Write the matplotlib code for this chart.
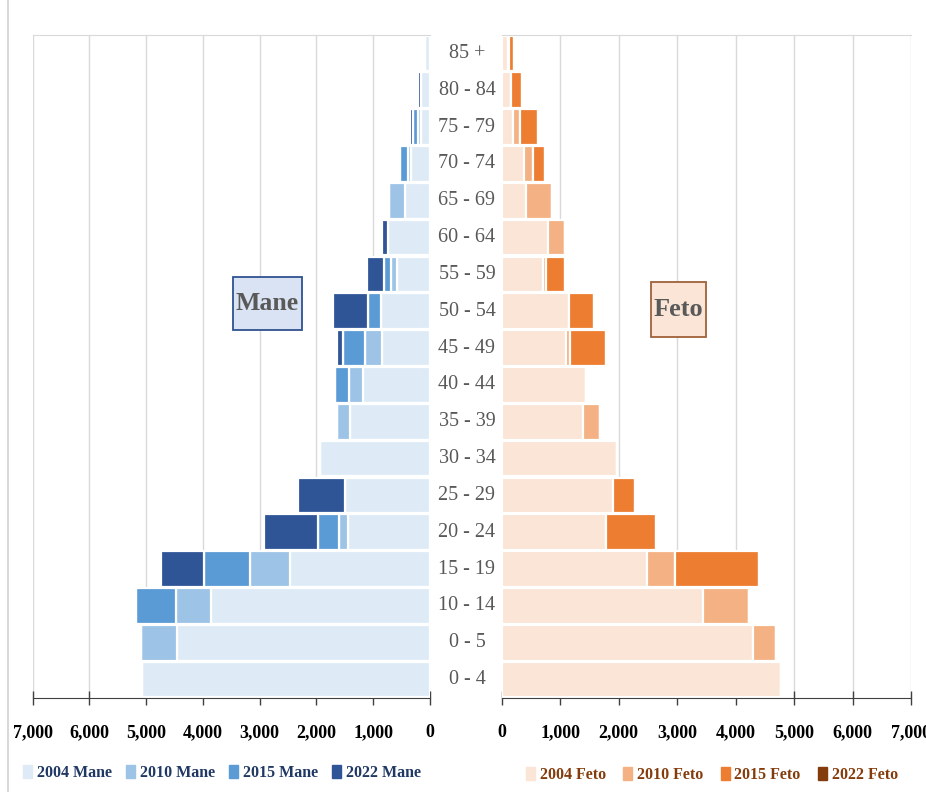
import numpy as np
import matplotlib
matplotlib.use("Agg")
import matplotlib.pyplot as plt
from matplotlib.ticker import FuncFormatter
from matplotlib.patches import Patch, Rectangle
from matplotlib.lines import Line2D
from matplotlib.transforms import blended_transform_factory

plt.rcParams['font.family'] = ['Liberation Serif', 'DejaVu Serif']

# age groups, bottom to top (labels as printed on the chart)
ages = ['0 - 4', '0 - 5', '10 - 14', '15 - 19', '20 - 24', '25 - 29', '30 - 34',
        '35 - 39', '40 - 44', '45 - 49', '50 - 54', '55 - 59', '60 - 64',
        '65 - 69', '70 - 74', '75 - 79', '80 - 84', '85 +']

mane_2004 = [5070, 4460, 3856, 2470, 1438, 1496, 1931, 1403, 1174, 850, 868, 587, 735, 445, 340, 160, 150, 90]
mane_2010 = [0, 623, 616, 694, 159, 0, 0, 229, 246, 290, 0, 105, 0, 270, 50, 50, 0, 0]
mane_2015 = [0, 0, 704, 815, 369, 0, 0, 0, 258, 387, 218, 113, 0, 0, 140, 90, 0, 0]
mane_2022 = [0, 0, 0, 757, 957, 833, 0, 0, 0, 117, 622, 300, 110, 0, 0, 60, 60, 0]

feto_2004 = [4770, 4287, 3439, 2488, 1778, 1898, 1971, 1396, 1437, 1106, 1157, 713, 799, 424, 379, 201, 159, 114]
feto_2010 = [0, 402, 785, 478, 0, 0, 0, 285, 0, 70, 0, 40, 290, 443, 153, 110, 0, 20]
feto_2015 = [0, 0, 0, 1433, 864, 380, 0, 0, 0, 612, 421, 336, 0, 0, 215, 313, 190, 80]
feto_2022 = [0] * 18

years = ['2004', '2010', '2015', '2022']
mane_cols = ['#DEEBF7', '#9DC3E6', '#5B9BD5', '#2F5597']
feto_cols = ['#FBE5D6', '#F4B183', '#ED7D31', '#843C0C']

W, H = 926, 792
fig = plt.figure(figsize=(W / 100, H / 100), dpi=100)

axL = fig.add_axes([32.5 / W, 1 - 698 / H, (430 - 32.5) / W, (698 - 35) / H])
axR = fig.add_axes([501.5 / W, 1 - 698 / H, (911.4 - 501.5) / W, (698 - 35) / H])

y = np.arange(len(ages))
fmt = FuncFormatter(lambda v, p: f'{int(v):,}')


def draw(ax, series, colors):
    left = np.zeros(len(ages))
    for vals, c in zip(series, colors):
        vals = np.array(vals, dtype=float)
        ax.barh(y, vals, left=left, height=0.97, color=c, edgecolor='white', linewidth=1.6)
        left = left + vals
    ax.set_ylim(-0.5, len(ages) - 0.5)
    ax.set_yticks([])
    ax.set_xticks(np.arange(0, 7001, 1000))
    ax.xaxis.set_major_formatter(fmt)
    ax.grid(axis='x', color='#D9D9D9', linewidth=1)
    ax.set_axisbelow(True)
    for s in ['left', 'right']:
        ax.spines[s].set_visible(False)
    ax.spines['top'].set_color('#D9D9D9')
    ax.spines['bottom'].set_color('#404040')
    ax.tick_params(axis='x', direction='inout', length=10, width=1, color='#404040',
                   pad=14, labelsize=13)
    for lab in ax.get_xticklabels():
        lab.set_fontweight('bold')


draw(axL, [mane_2004, mane_2010, mane_2015, mane_2022], mane_cols)
axL.set_xlim(7000, 0)
draw(axR, [feto_2004, feto_2010, feto_2015, feto_2022], feto_cols)
axR.set_xlim(0, 7000)

# age labels between the two panels
tr = blended_transform_factory(fig.transFigure, axL.transData)
for i, a in enumerate(ages):
    fig.text(467 / W, i, a, transform=tr, ha='center', va='center',
             fontsize=14.5, color='#595959')

# panel titles in boxes
fig.add_artist(Rectangle((233 / W, 1 - 330 / H), 69 / W, 53 / H, transform=fig.transFigure,
                         fc='#DAE3F3', ec='#2F528F', lw=1.3, zorder=5))
fig.text(267.5 / W, 1 - 304 / H, 'Mane', ha='center', va='center', fontsize=18.5,
         fontweight='bold', color='#595959', zorder=6)
fig.add_artist(Rectangle((651 / W, 1 - 337 / H), 55 / W, 55 / H, transform=fig.transFigure,
                         fc='#FBE5D6', ec='#A0613A', lw=1.3, zorder=5))
fig.text(678.5 / W, 1 - 310 / H, 'Feto', ha='center', va='center', fontsize=19,
         fontweight='bold', color='#595959', zorder=6)

# outer border line
fig.add_artist(Line2D([8 / W, 8 / W], [0, 1], transform=fig.transFigure, color='#D9D9D9', lw=1.5))

# legends
hL = [Patch(color=c, label=f'{yr} Mane') for yr, c in zip(years, mane_cols)]
hR = [Patch(color=c, label=f'{yr} Feto') for yr, c in zip(years, feto_cols)]
fig.legend(handles=hL, loc='center', bbox_to_anchor=(222 / W, 1 - 773 / H), ncol=4,
           frameon=False, handlelength=0.55, handleheight=0.9, handletextpad=0.3,
           columnspacing=0.9, prop={'size': 11.5, 'weight': 'bold'}, labelcolor='#203864')
fig.legend(handles=hR, loc='center', bbox_to_anchor=(712 / W, 1 - 775 / H), ncol=4,
           frameon=False, handlelength=0.55, handleheight=0.9, handletextpad=0.3,
           columnspacing=1.1, prop={'size': 11.5, 'weight': 'bold'}, labelcolor='#843C0C')

fig.savefig('out.png', dpi=100)
